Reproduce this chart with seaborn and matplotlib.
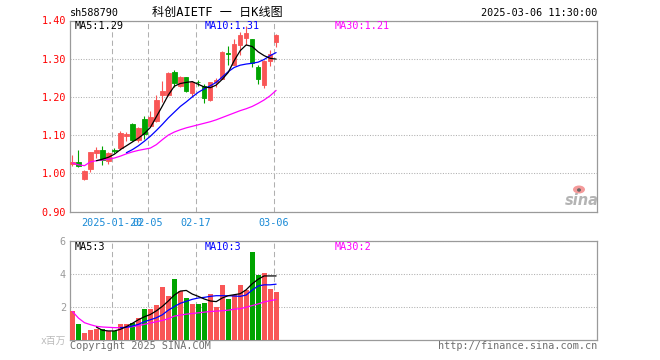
import numpy as np
import matplotlib
matplotlib.use("Agg")
import matplotlib.pyplot as plt
from matplotlib.patches import Ellipse
import seaborn as sns

# ---------------- data ----------------
opens = [1.024, 1.030, 0.985, 1.012, 1.054, 1.062, 1.031, 1.062, 1.065, 1.098,
         1.128, 1.087, 1.141, 1.125, 1.137, 1.204, 1.204, 1.264, 1.229, 1.251,
         1.210, 1.240, 1.229, 1.192, 1.238, 1.248, 1.315, 1.284, 1.337, 1.354,
         1.352, 1.277, 1.231, 1.295, 1.345]
closes = [1.029, 1.020, 1.007, 1.055, 1.060, 1.034, 1.052, 1.058, 1.106, 1.103,
          1.087, 1.118, 1.102, 1.148, 1.192, 1.216, 1.262, 1.236, 1.253, 1.216,
          1.238, 1.239, 1.197, 1.238, 1.244, 1.317, 1.313, 1.339, 1.361, 1.368,
          1.288, 1.247, 1.295, 1.312, 1.363]
highs = [1.049, 1.060, 1.009, 1.057, 1.069, 1.071, 1.055, 1.067, 1.110, 1.108,
         1.132, 1.121, 1.150, 1.163, 1.204, 1.242, 1.264, 1.271, 1.254, 1.252,
         1.242, 1.245, 1.235, 1.240, 1.249, 1.319, 1.334, 1.352, 1.369, 1.385,
         1.352, 1.283, 1.297, 1.323, 1.365]
lows = [1.018, 1.017, 0.982, 1.003, 1.040, 1.021, 1.025, 1.052, 1.062, 1.084,
        1.084, 1.083, 1.091, 1.124, 1.134, 1.187, 1.203, 1.226, 1.225, 1.213,
        1.200, 1.229, 1.185, 1.190, 1.225, 1.246, 1.283, 1.283, 1.310, 1.336,
        1.277, 1.233, 1.222, 1.282, 1.330]
volumes = [1.76, 0.92, 0.38, 0.58, 0.62, 0.62, 0.52, 0.52, 0.92, 0.92,
           1.02, 1.28, 1.88, 1.88, 2.12, 3.20, 2.66, 3.68, 2.96, 2.54,
           2.18, 2.18, 2.22, 2.78, 2.00, 3.34, 2.48, 2.70, 3.34, 3.00,
           5.30, 3.94, 4.04, 3.08, 2.86]

ma5_price_start = 4
ma5_price = [1.033, 1.037, 1.042, 1.050, 1.062, 1.072, 1.082, 1.092, 1.104, 1.120,
             1.148, 1.176, 1.205, 1.228, 1.235, 1.238, 1.240, 1.233, 1.226, 1.224,
             1.231, 1.246, 1.264, 1.295, 1.321, 1.336, 1.332, 1.318, 1.308, 1.301,
             1.299]
ma10_price_start = 9
ma10_price = [1.054, 1.062, 1.072, 1.084, 1.097, 1.112, 1.128, 1.145, 1.160, 1.175,
              1.187, 1.200, 1.212, 1.221, 1.229, 1.238, 1.252, 1.266, 1.277, 1.283,
              1.286, 1.288, 1.291, 1.298, 1.308, 1.316]
ma30_price_start = 0
ma30_price = [1.027, 1.022, 1.020, 1.030, 1.033, 1.035, 1.037, 1.040, 1.045, 1.051,
              1.056, 1.060, 1.063, 1.066, 1.075, 1.088, 1.100, 1.108, 1.114, 1.119,
              1.123, 1.127, 1.131, 1.135, 1.140, 1.146, 1.152, 1.158, 1.164, 1.169,
              1.175, 1.183, 1.192, 1.203, 1.217]

ma5_vol_start = 4
ma5_vol = [0.75, 0.56, 0.52, 0.52, 0.62, 0.78, 0.98, 1.20, 1.38, 1.52,
           1.74, 2.01, 2.34, 2.70, 2.94, 2.98, 2.76, 2.62, 2.46, 2.34,
           2.30, 2.52, 2.66, 2.72, 2.78, 3.02, 3.38, 3.66, 3.86, 3.86, 3.86]
ma10_vol_start = 8
ma10_vol = [0.72, 0.74, 0.82, 0.92, 1.08, 1.20, 1.32, 1.50, 1.78, 2.00,
            2.20, 2.32, 2.44, 2.52, 2.56, 2.62, 2.66, 2.66, 2.66, 2.64,
            2.62, 2.70, 3.00, 3.25, 3.32, 3.32, 3.36]
ma30_vol_start = 0
ma30_vol = [1.70, 1.30, 1.02, 0.90, 0.80, 0.76, 0.74, 0.72, 0.72, 0.74,
            0.78, 0.84, 0.92, 1.00, 1.08, 1.16, 1.26, 1.42, 1.48, 1.54,
            1.58, 1.62, 1.66, 1.70, 1.72, 1.75, 1.78, 1.84, 1.87, 1.96,
            2.06, 2.16, 2.28, 2.36, 2.42]

tick_days = [7, 13, 21, 34]
tick_labels = ["2025-01-20", "02-05", "02-17", "03-06"]
price_ticks = [0.90, 1.00, 1.10, 1.20, 1.30, 1.40]
vol_ticks = [2, 4, 6]
total_slots = 88

# ---------------- style ----------------
sns.set_theme(style="white")
MONO = ['DejaVu Sans Mono', 'Noto Sans CJK SC']
plt.rcParams['font.family'] = MONO
plt.rcParams['axes.unicode_minus'] = False

RED = '#f95656'
GREEN = '#00a400'
FRAME = '#9a9a9a'
GRID = '#b0b0b0'
DATEC = '#1a8ad6'

W, H = 660, 360
fig = plt.figure(figsize=(W / 100, H / 100), dpi=100)
fig.patch.set_facecolor('white')


def rect(l, t, r, b):
    return [l / W, 1 - b / H, (r - l) / W, (b - t) / H]


ax = fig.add_axes(rect(70, 20.5, 597, 211.5))
axv = fig.add_axes(rect(70, 240.7, 597, 339.5))

n = len(closes)
x = np.arange(n)
o = np.array(opens)
c = np.array(closes)
up = c >= o
cols = [RED if u else GREEN for u in up]

# ---------------- candles ----------------
ax.vlines(x, lows, highs, colors=cols, linewidth=0.8, zorder=3)
ax.bar(x, np.abs(c - o), bottom=np.minimum(o, c), width=0.74,
       color=cols, edgecolor=cols, linewidth=0.6, zorder=4)

sns.lineplot(x=np.arange(ma30_price_start, ma30_price_start + len(ma30_price)),
             y=ma30_price, color='#ff00ff', linewidth=0.9, ax=ax, zorder=5)
sns.lineplot(x=np.arange(ma10_price_start, ma10_price_start + len(ma10_price)),
             y=ma10_price, color='#0000ff', linewidth=0.9, ax=ax, zorder=5)
sns.lineplot(x=np.arange(ma5_price_start, ma5_price_start + len(ma5_price)),
             y=ma5_price, color='black', linewidth=0.9, ax=ax, zorder=6)

# ---------------- volume ----------------
dirs = ['up' if u else 'down' for u in up]
sns.barplot(x=x, y=volumes, hue=dirs, hue_order=['up', 'down'],
            palette={'up': RED, 'down': GREEN}, native_scale=True,
            width=0.83, dodge=False, legend=False, saturation=1,
            linewidth=0, errorbar=None, ax=axv, zorder=3)
sns.lineplot(x=np.arange(ma30_vol_start, ma30_vol_start + len(ma30_vol)),
             y=ma30_vol, color='#ff00ff', linewidth=0.9, ax=axv, zorder=5)
sns.lineplot(x=np.arange(ma10_vol_start, ma10_vol_start + len(ma10_vol)),
             y=ma10_vol, color='#0000ff', linewidth=0.9, ax=axv, zorder=5)
sns.lineplot(x=np.arange(ma5_vol_start, ma5_vol_start + len(ma5_vol)),
             y=ma5_vol, color='black', linewidth=0.9, ax=axv, zorder=6)

# ---------------- axes styling ----------------
grid_x = np.array(tick_days) - 0.42
for a in (ax, axv):
    a.set_xlim(-0.417, -0.417 + total_slots)
    a.set_xlabel('')
    a.set_ylabel('')
    a.set_axisbelow(True)
    for s in a.spines.values():
        s.set_color(FRAME)
        s.set_linewidth(0.9)
        s.set_visible(True)
    a.set_xticks(grid_x)
    a.xaxis.grid(True, color=GRID, linestyle=(0, (5, 3)), linewidth=0.75)
    a.yaxis.grid(True, color=GRID, linestyle=(0, (1, 1.5)), linewidth=0.75)
    a.tick_params(axis='both', length=0)

ax.set_ylim(0.90, 1.40)
ax.set_yticks(price_ticks)
ax.set_yticklabels([f"{v:.2f}" for v in price_ticks])
ax.tick_params(axis='y', labelcolor='#ff0000', labelsize=7.3, pad=3)
ax.set_xticklabels(tick_labels)
ax.tick_params(axis='x', labelcolor=DATEC, labelsize=7.3, pad=4.5)

axv.set_ylim(0, 6)
axv.set_yticks(vol_ticks)
axv.set_yticklabels([str(v) for v in vol_ticks])
axv.tick_params(axis='y', labelcolor='#9a9a9a', labelsize=7.3, pad=3)
axv.tick_params(axis='x', labelbottom=False)


# ---------------- texts ----------------
def ftext(px, py, s, **kw):
    fig.text(px / W, 1 - py / H, s, **kw)


FS = 7.3
ftext(70, 13, "sh588790", ha='left', va='center', fontsize=FS, color='black')
ftext(217, 12.5, "科创AIETF 一 日K线图", ha='center', va='center', fontsize=8.7,
      color='black', family=MONO)
ftext(597, 13, "2025-03-06 11:30:00", ha='right', va='center', fontsize=FS,
      color='black')

ftext(75, 26, "MA5:1.29", ha='left', va='center', fontsize=FS, color='black')
ftext(205, 26, "MA10:1.31", ha='left', va='center', fontsize=FS, color='#0000ff')
ftext(335, 26, "MA30:1.21", ha='left', va='center', fontsize=FS, color='#ff00ff')

ftext(75, 246.5, "MA5:3", ha='left', va='center', fontsize=FS, color='black')
ftext(205, 246.5, "MA10:3", ha='left', va='center', fontsize=FS, color='#0000ff')
ftext(335, 246.5, "MA30:2", ha='left', va='center', fontsize=FS, color='#ff00ff')

ftext(66, 340.5, "x百万", ha='right', va='center', fontsize=7, color='#bbbbbb',
      family=MONO)
ftext(70, 346, "Copyright 2025 SINA.COM", ha='left', va='center', fontsize=FS,
      color='#6e6e6e')
ftext(597, 346, "http://finance.sina.com.cn", ha='right', va='center',
      fontsize=FS, color='#6e6e6e')

# sina watermark
ftext(582, 200.5, "sina", ha='center', va='center', fontsize=10.5, color='#b4b4b4',
      family='DejaVu Sans', fontstyle='italic', fontweight='bold')
fig.add_artist(Ellipse((579 / W, 1 - 189.5 / H), width=12 / W, height=8 / H,
                       facecolor='#f49a9a', edgecolor='none',
                       transform=fig.transFigure))
fig.add_artist(Ellipse((579 / W, 1 - 190 / H), width=4 / W, height=3.5 / H,
                       facecolor='#666666', edgecolor='none',
                       transform=fig.transFigure))

fig.savefig("out.png", dpi=100, facecolor='white')
